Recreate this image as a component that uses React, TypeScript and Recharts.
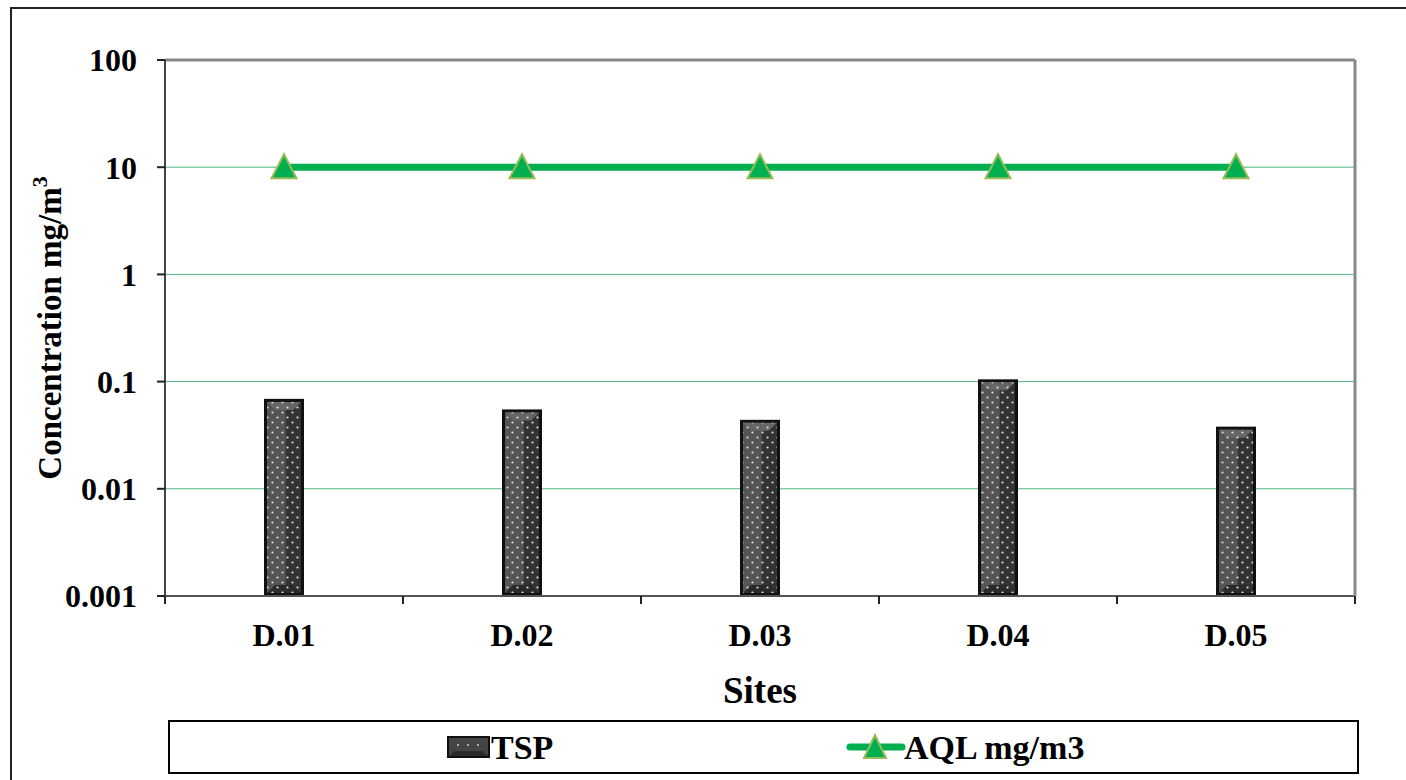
import React from "react";
import {
  ComposedChart,
  Bar,
  Line,
  XAxis,
  YAxis,
  CartesianGrid,
  ReferenceLine,
} from "recharts";

const sites = ["D.01", "D.02", "D.03", "D.04", "D.05"];
const tsp = [0.069, 0.055, 0.044, 0.105, 0.038];
const aql = [10, 10, 10, 10, 10];
const yTicks = [0.001, 0.01, 0.1, 1, 10, 100];

const W = 1406;
const H = 780;
const X_AXIS_H = 184;
const M = { top: 60, right: 50, bottom: 0, left: 0 };
const Y_AXIS_W = 165;
const BAND = (W - M.right - 1 - Y_AXIS_W) / sites.length;

const FONT = '"Liberation Serif", "Times New Roman", serif';
const GREEN = "#00B050";

const data = sites.map((s, i) => ({ site: s, tsp: tsp[i], aql: aql[i] }));

const BarShape = (props: any) => {
  const { x, y, width, height } = props;
  if (!height || height <= 0) return null;
  const b = 3;
  return (
    <g>
      <rect x={x} y={y} width={width} height={height} fill="#111" />
      <rect x={x + b} y={y + b} width={width - 2 * b} height={height - 2 * b} fill="#333" />
      <rect x={x + b} y={y + b} width={(width - 2 * b) * 0.55} height={height - 2 * b} fill="#555" />
      <polygon
        points={`${x + b},${y + b} ${x + width - b},${y + b} ${x + width - b - 8},${y + b + 8} ${x + b + 8},${y + b + 8}`}
        fill="#666"
      />
      <polygon
        points={`${x + b},${y + height - b} ${x + width - b},${y + height - b} ${x + width - b - 8},${y + height - b - 8} ${x + b + 8},${y + height - b - 8}`}
        fill="#2a2a2a"
      />
      <rect x={x + b} y={y + b} width={width - 2 * b} height={height - 2 * b} fill="url(#dots)" />
    </g>
  );
};

const Triangle = (props: any) => {
  const { cx, cy, index } = props;
  if (cx == null || cy == null) return null;
  return (
    <polygon
      key={`tri-${index}`}
      points={`${cx},${cy - 13} ${cx - 12.5},${cy + 11} ${cx + 12.5},${cy + 11}`}
      fill={GREEN}
      stroke="#9BBB59"
      strokeWidth={2}
    />
  );
};

const SiteTick = (props: any) => {
  const { x, y, payload, index } = props;
  const axisY = y;
  return (
    <g>
      <line x1={x + BAND / 2} y1={axisY} x2={x + BAND / 2} y2={axisY + 8} stroke="#222" strokeWidth={2} />
      {index === 0 && (
        <line x1={x - BAND / 2} y1={axisY} x2={x - BAND / 2} y2={axisY + 8} stroke="#222" strokeWidth={2} />
      )}
      <text
        x={x}
        y={axisY + 50}
        textAnchor="middle"
        fontFamily={FONT}
        fontWeight="bold"
        fontSize={32}
        fill="#000"
      >
        {payload.value}
      </text>
    </g>
  );
};

const LegendBox = () => (
  <div
    style={{
      position: "absolute",
      left: 168,
      top: 720,
      width: 1187,
      height: 50,
      border: "2px solid #000",
      background: "#fff",
    }}
  >
    <svg width={1187} height={50} style={{ display: "block" }}>
      <g>
        <rect x={277} y={14} width={43} height={22} fill="#111" />
        <rect x={279} y={16} width={39} height={18} fill="#444" />
        <polygon points="279,34 318,34 312,29 285,29" fill="#2a2a2a" />
        <circle cx={288} cy={23} r={1} fill="#ccc" />
        <circle cx={298} cy={23} r={1} fill="#ccc" />
        <circle cx={308} cy={23} r={1} fill="#ccc" />
        <text x={321} y={37} fontFamily={FONT} fontWeight="bold" fontSize={34} fill="#000">
          TSP
        </text>
      </g>
      <g>
        <line x1={680} y1={25} x2={732} y2={25} stroke={GREEN} strokeWidth={7} strokeLinecap="round" />
        <polygon points="705,13 694,36 716,36" fill={GREEN} stroke="#9BBB59" strokeWidth={2} />
        <text x={734} y={37} fontFamily={FONT} fontWeight="bold" fontSize={34} fill="#000">
          AQL mg/m3
        </text>
      </g>
    </svg>
  </div>
);

export default function App() {
  return (
    <div
      style={{
        position: "absolute",
        left: 0,
        top: 0,
        width: W,
        height: H,
        background: "#fff",
        overflow: "hidden",
      }}
    >
      <div
        style={{
          position: "absolute",
          left: 10,
          top: 7,
          width: 1400,
          height: 800,
          border: "2px solid #222",
          boxSizing: "border-box",
        }}
      />
      <div style={{ position: "absolute", left: 0, top: 0 }}>
        <ComposedChart width={W} height={H} data={data} margin={M} barCategoryGap={0}>
          <defs>
            <pattern id="dots" width={10} height={10} patternUnits="userSpaceOnUse">
              <circle cx={2.5} cy={2.5} r={1.1} fill="#ddd" />
              <circle cx={7.5} cy={7.5} r={1.1} fill="#ddd" />
            </pattern>
          </defs>
          <CartesianGrid yAxisId="l" horizontal vertical={false} stroke="#4CB87A" strokeWidth={1} />
          <XAxis
            dataKey="site"
            height={X_AXIS_H}
            tickLine={false}
            tickSize={0}
            tickMargin={0}
            axisLine={{ stroke: "#555", strokeWidth: 2 }}
            tick={<SiteTick />}
            interval={0}
            label={{
              content: (p: any) => {
                const vb = p.viewBox || {};
                return (
                  <text
                    x={vb.x + vb.width / 2}
                    y={vb.y + 107}
                    textAnchor="middle"
                    fontFamily={FONT}
                    fontWeight="bold"
                    fontSize={37}
                    fill="#000"
                  >
                    Sites
                  </text>
                );
              },
            }}
          />
          <YAxis
            yAxisId="l"
            scale="log"
            type="number"
            domain={[0.001, 100]}
            ticks={yTicks}
            allowDataOverflow
            width={Y_AXIS_W}
            tickSize={8}
            tickMargin={20}
            tickLine={{ stroke: "#222", strokeWidth: 2 }}
            axisLine={{ stroke: "#444", strokeWidth: 2 }}
            tickFormatter={(v: number) => String(v)}
            tick={{ fill: "#000", fontSize: 32, fontWeight: "bold", fontFamily: FONT }}
            label={{
              content: () => (
                <text
                  transform="translate(50,328) rotate(-90)"
                  textAnchor="middle"
                  dominantBaseline="central"
                  fontFamily={FONT}
                  fontWeight="bold"
                  fontSize={33}
                  fill="#000"
                >
                  <tspan>Concentration mg/m</tspan>
                  <tspan dy={-11} fontSize={22}>
                    3
                  </tspan>
                </text>
              ),
            }}
          />
          <YAxis
            yAxisId="r"
            orientation="right"
            type="number"
            domain={[0, 1]}
            width={1}
            tick={false}
            tickLine={false}
            axisLine={{ stroke: "#888", strokeWidth: 3 }}
          />
          <ReferenceLine yAxisId="l" y={100} stroke="#888" strokeWidth={3} />
          <Bar
            yAxisId="l"
            dataKey="tsp"
            barSize={40}
            shape={<BarShape />}
            isAnimationActive={false}
          />
          <Line
            yAxisId="l"
            dataKey="aql"
            stroke={GREEN}
            strokeWidth={7}
            dot={<Triangle />}
            activeDot={false}
            isAnimationActive={false}
          />
        </ComposedChart>
      </div>
      <LegendBox />
    </div>
  );
}
